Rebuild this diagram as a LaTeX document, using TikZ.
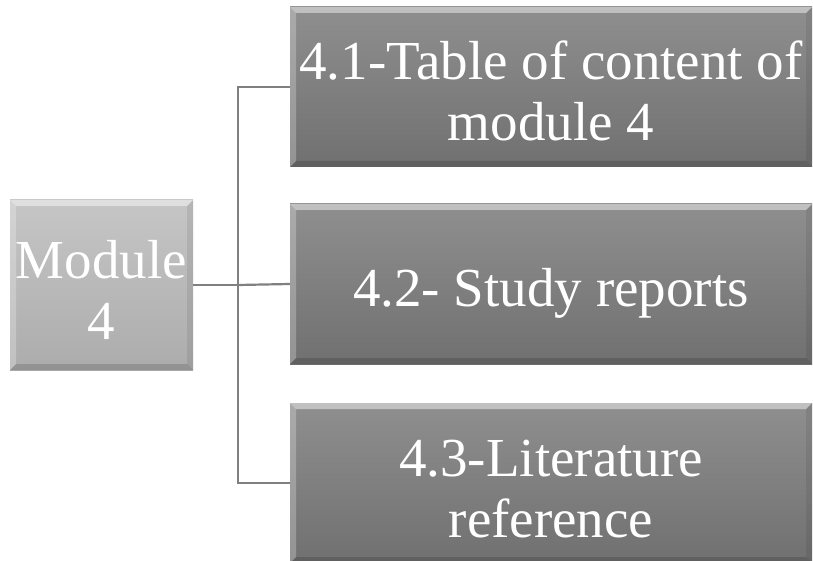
\documentclass[tikz,border=0pt]{standalone}
\usepackage{fontspec}
\setmainfont{Liberation Serif}
\begin{document}
\begin{tikzpicture}[x=1pt,y=-1pt,
  bevelbox/.style={draw=none, inner sep=0pt, minimum width=#1,
    path picture={
      \coordinate (nw) at (path picture bounding box.north west);
      \coordinate (se) at (path picture bounding box.south east);
      \coordinate (ne) at (path picture bounding box.north east);
      \coordinate (sw) at (path picture bounding box.south west);
      \fill[white,opacity=0.45] (nw) -- (ne) -- ([xshift=-6pt,yshift=-6pt]ne) -- ([xshift=6pt,yshift=-6pt]nw) -- cycle;
      \fill[white,opacity=0.25] (nw) -- ([xshift=6pt,yshift=-6pt]nw) -- ([xshift=6pt,yshift=6pt]sw) -- (sw) -- cycle;
      \fill[black,opacity=0.15] (sw) -- ([xshift=6pt,yshift=6pt]sw) -- ([xshift=-6pt,yshift=6pt]se) -- (se) -- cycle;
      \fill[black,opacity=0.08] (ne) -- (se) -- ([xshift=-6pt,yshift=6pt]se) -- ([xshift=-6pt,yshift=-6pt]ne) -- cycle;
    }},
  boxtext/.style={text=white, inner sep=0pt, align=center,
    font=\fontsize{55}{61}\selectfont},
  rootbox/.style={bevelbox=183pt, minimum height=170pt, top color=gray!45, bottom color=gray!65},
  childbox/.style={bevelbox=522pt, minimum height=160pt, top color=black!44, bottom color=black!56},
  link/.style={draw=black!50, line width=2.2pt}]
\useasboundingbox (0,0) rectangle (813,561);

% boxes
\node[rootbox] (root) at (101.5,285) {};
\node[childbox] (c1) at (551,87) {};
\node[childbox] (c2) at (551,284) {};
\node[childbox] (c3) at (551,483) {};

% box labels, set a little below the box centres
\node[boxtext] (roottext) at ([yshift=-5pt]root.center) {Module\\4};
\node[boxtext] (c1text) at ([yshift=-4pt]c1.center) {4.1-Table of content of\\module 4};
\node[boxtext] (c2text) at ([yshift=-9pt]c2.center) {4.2- Study reports};
\node[boxtext] (c3text) at ([yshift=-6pt]c3.center) {4.3-Literature\\reference};

% connectors
\coordinate (trunk) at (238,285);
\draw[link] (root.east) -- (trunk);
\draw[link] (trunk) |- (c1.west);
\draw[link] (trunk) -- (c2.west);
\draw[link] (trunk) |- (c3.west);
\end{tikzpicture}
\end{document}
